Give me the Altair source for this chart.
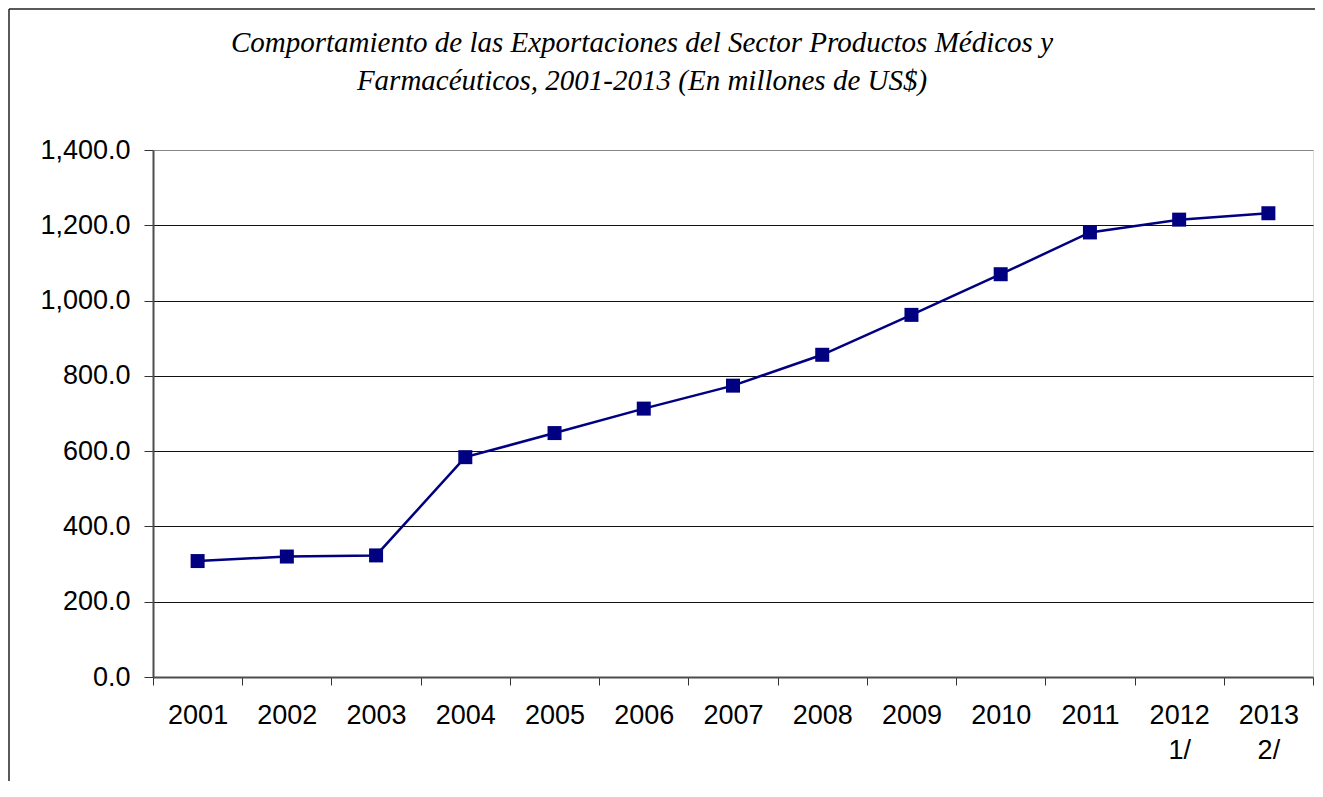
import altair as alt
import pandas as pd

years = ["2001", "2002", "2003", "2004", "2005", "2006", "2007",
         "2008", "2009", "2010", "2011", "2012 1/", "2013 2/"]
values = [308, 320, 323, 584, 648, 713, 774, 856, 962, 1070, 1181, 1215, 1232]
y_ticks = [0, 200, 400, 600, 800, 1000, 1200, 1400]
title_lines = ["Comportamiento de las Exportaciones del Sector Productos Médicos y",
               "Farmacéuticos, 2001-2013 (En millones de US$)"]

df = pd.DataFrame({"year": years, "value": values})

W, H = 1160, 527
PAD = {"left": 145, "top": 142, "right": 2, "bottom": 104}

x_enc = alt.X("year:O", sort=years,
              scale=alt.Scale(type="band", paddingInner=0, paddingOuter=0),
              axis=alt.Axis(title=None, labelAngle=0, tickBand="extent",
                            labelExpr="datum.value ? split(datum.value, ' ') : ''",
                            labelFont="Liberation Sans", labelFontSize=27,
                            labelColor="black", labelLineHeight=35,
                            labelPadding=17, tickSize=8, tickColor="#333",
                            tickWidth=1, domainColor="#4d4d4d", domainWidth=2,
                            grid=False))
y_enc = alt.Y("value:Q",
              scale=alt.Scale(domain=[0, 1400], nice=False),
              axis=alt.Axis(title=None, values=y_ticks, format=",.1f",
                            labelFont="Liberation Sans", labelFontSize=27,
                            labelColor="black", labelPadding=14,
                            tickSize=9, tickColor="#333", tickWidth=1,
                            domainColor="#4d4d4d", domainWidth=2,
                            grid=True, gridWidth=1,
                            gridColor=alt.condition("datum.value == 1400 || datum.value == 0",
                                                    alt.value("#888888"), alt.value("#111111"))))

base = alt.Chart(df)
line = base.mark_line(color="#000080", strokeWidth=2.5).encode(x=x_enc, y=y_enc)
pts = base.mark_point(shape="square", filled=True, size=196, opacity=1,
                      color="#000080").encode(x=x_enc, y=y_enc)

one = alt.Data(values=[{"a": 1}])
border_top = alt.Chart(one).mark_rule(color="#222", strokeWidth=1.5).encode(
    x=alt.value(-144), x2=alt.value(W + 2), y=alt.value(-141))
border_left = alt.Chart(one).mark_rule(color="#222", strokeWidth=1.5).encode(
    x=alt.value(-144), y=alt.value(-141), y2=alt.value(H + 104))
title = alt.Chart(one).mark_text(
    text=title_lines, font="Liberation Serif", fontStyle="italic",
    fontSize=29, color="black", lineHeight=38, align="center",
    baseline="alphabetic").encode(x=alt.value(489), y=alt.value(-98))

chart = alt.layer(border_top, border_left, title, line, pts).properties(
    width=W, height=H,
    autosize=alt.AutoSizeParams(type="none"),
    padding=PAD,
).configure_view(stroke="#888888", strokeWidth=2.5).configure(background="white")

chart.save("out.html", embed_options={"renderer": "svg", "actions": False})
